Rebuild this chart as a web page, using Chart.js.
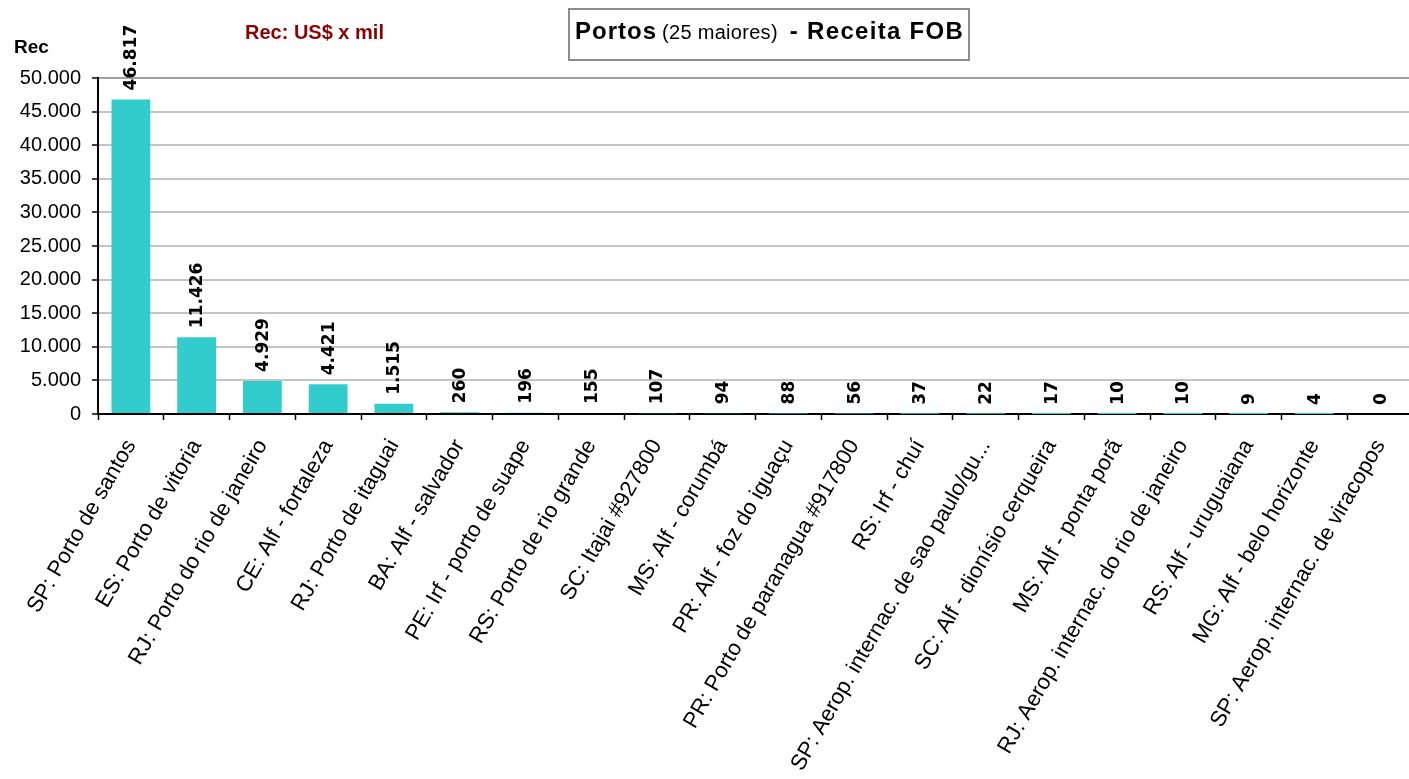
<!DOCTYPE html>
<html>
<head>
<meta charset="utf-8">
<script src="https://cdn.jsdelivr.net/npm/chart.js"></script>
<style>
html, body { margin: 0; padding: 0; overflow: hidden; background: #fff; }
#wrap { position: relative; width: 1418px; height: 779px; }
</style>
</head>
<body>
<div id="wrap"><canvas id="canvas"></canvas></div>
<script>
// data
var labels = [
    "SP: Porto de santos",
    "ES: Porto de vitoria",
    "RJ: Porto do rio de janeiro",
    "CE: Alf - fortaleza",
    "RJ: Porto de itaguai",
    "BA: Alf - salvador",
    "PE: Irf - porto de suape",
    "RS: Porto de rio grande",
    "SC: Itajai #927800",
    "MS: Alf - corumbá",
    "PR: Alf - foz do iguaçu",
    "PR: Porto de paranagua #917800",
    "RS: Irf - chuí",
    "SP: Aerop. internac. de sao paulo/gu...",
    "SC: Alf - dionísio cerqueira",
    "MS: Alf - ponta porã",
    "RJ: Aerop. internac. do rio de janeiro",
    "RS: Alf - uruguaiana",
    "MG: Alf - belo horizonte",
    "SP: Aerop. internac. de viracopos"
];
var receita = [46817, 11426, 4929, 4421, 1515, 260, 196, 155, 107, 94, 88, 56, 37, 22, 17, 10, 10, 9, 4, 0];
var yMax = 50000;
var yStep = 5000;

function fmt(v) {
    return String(v).replace(/\B(?=(\d{3})+(?!\d))/g, '.');
}

// value labels above the bars, rotated
var barLabels = {
    id: 'barLabels',
    afterDatasetsDraw: function(chart) {
        var ctx = chart.ctx;
        var meta = chart.getDatasetMeta(0);
        ctx.save();
        ctx.font = 'bold 17px "DejaVu Sans"';
        ctx.fillStyle = '#000';
        ctx.textAlign = 'left';
        ctx.textBaseline = 'middle';
        meta.data.forEach(function(bar, i) {
            ctx.save();
            ctx.translate(bar.x + 1, bar.y - 9);
            ctx.rotate(-Math.PI / 2);
            ctx.fillText(fmt(receita[i]), 0, 0);
            ctx.restore();
        });
        ctx.restore();
    }
};

// titles drawn on top
var titles = {
    id: 'titles',
    afterDraw: function(chart) {
        var ctx = chart.ctx;
        ctx.save();
        ctx.textBaseline = 'alphabetic';
        ctx.fillStyle = '#000';
        ctx.font = 'bold 19px "Liberation Sans"';
        ctx.fillText('Rec', 14, 53);

        ctx.fillStyle = '#8B0000';
        ctx.font = 'bold 20px "Liberation Sans"';
        ctx.fillText('Rec: US$ x mil', 245, 39);

        // boxed title
        ctx.strokeStyle = '#8c8c8c';
        ctx.lineWidth = 2;
        ctx.strokeRect(569, 9, 400, 51);
        ctx.fillStyle = '#000';
        var x = 575;
        ctx.letterSpacing = '1px';
        ctx.font = 'bold 24px "Liberation Sans"';
        ctx.fillText('Portos', x, 39);
        x += ctx.measureText('Portos').width + 5;
        ctx.letterSpacing = '0.3px';
        ctx.font = '20px "Liberation Sans"';
        ctx.fillText('(25 maiores)', x, 39);
        x += ctx.measureText('(25 maiores)').width + 12;
        ctx.letterSpacing = '1.3px';
        ctx.font = 'bold 24px "Liberation Sans"';
        ctx.fillText('- Receita FOB', x, 39);
        ctx.restore();
    }
};

var ctx = document.getElementById('canvas').getContext('2d');
var chart = new Chart(ctx, {
    type: 'bar',
    data: {
        labels: labels,
        datasets: [{
            label: 'Rec',
            data: receita,
            backgroundColor: '#33CCCC',
            borderWidth: 0,
            barPercentage: 0.59,
            categoryPercentage: 1.0
        }]
    },
    options: {
        responsive: true,
        maintainAspectRatio: false,
        animation: false,
        layout: { padding: { top: 78, left: 0, right: 0, bottom: 0 } },
        plugins: {
            legend: { display: false },
            tooltip: { enabled: false }
        },
        scales: {
            x: {
                afterFit: function(scale) { scale.height = 365; },
                border: { color: '#000', width: 2 },
                grid: {
                    offset: true,
                    drawOnChartArea: false,
                    drawTicks: true,
                    tickLength: 6,
                    tickColor: '#000',
                    tickWidth: 1.5
                },
                ticks: {
                    autoSkip: false,
                    minRotation: 60,
                    maxRotation: 60,
                    padding: 15,
                    color: '#000',
                    font: { family: '"Liberation Sans"', size: 22 }
                }
            },
            y: {
                min: 0,
                max: yMax,
                afterFit: function(scale) { scale.width = 98; },
                border: { color: '#000', width: 2 },
                grid: {
                    color: function(c) { return c.tick && c.tick.value === yMax ? '#a0a0a0' : '#c4c4c4'; },
                    lineWidth: 2,
                    tickLength: 6,
                    tickColor: '#000',
                    tickWidth: 1.5
                },
                ticks: {
                    stepSize: yStep,
                    padding: 11,
                    color: '#000',
                    font: { family: '"Liberation Sans"', size: 20 },
                    callback: function(v) { return fmt(v); }
                }
            }
        }
    },
    plugins: [barLabels, titles]
});
</script>
</body>
</html>
